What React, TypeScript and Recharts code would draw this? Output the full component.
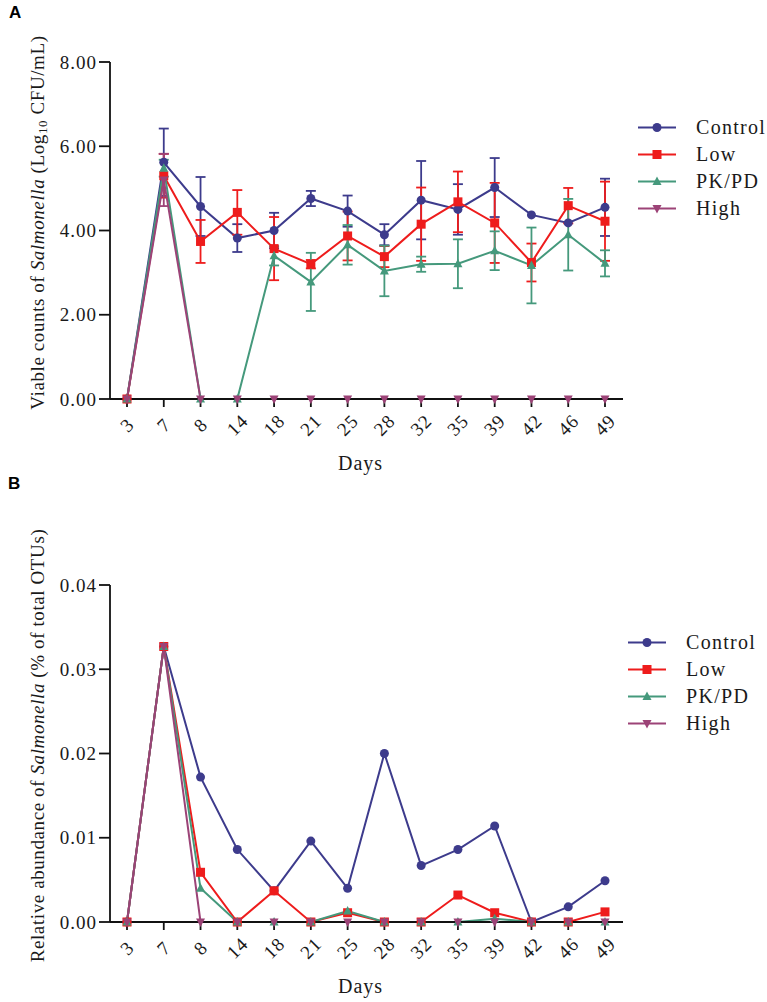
import React from 'react';
import { LineChart, Line, XAxis, YAxis, ErrorBar, Legend } from 'recharts';

const days = ['3', '7', '8', '14', '18', '21', '25', '28', '32', '35', '39', '42', '46', '49'];

// Panel A: viable counts (log10 CFU/mL) with SD
const controlA = [0, 5.62, 4.57, 3.82, 4.0, 4.76, 4.46, 3.9, 4.72, 4.5, 5.02, 4.37, 4.18, 4.55];
const controlAErr = [0, 0.8, 0.7, 0.33, 0.42, 0.18, 0.37, 0.25, 0.93, 0.6, 0.7, 0, 0, 0.68];
const lowA = [0, 5.3, 3.74, 4.43, 3.57, 3.2, 3.87, 3.38, 4.15, 4.68, 4.18, 3.24, 4.59, 4.22];
const lowAErr = [0, 0.52, 0.51, 0.53, 0.75, 0.1, 0.58, 0.25, 0.87, 0.72, 0.95, 0.45, 0.42, 0.94];
const pkpdA = [0, 5.48, 0, 0, 3.4, 2.78, 3.66, 3.04, 3.2, 3.21, 3.52, 3.17, 3.9, 3.22];
const pkpdAErr = [0, 0.2, 0, 0, 0.23, 0.69, 0.47, 0.6, 0.18, 0.58, 0.46, 0.9, 0.85, 0.31];
const highA = [0, 5.2, 0, 0, 0, 0, 0, 0, 0, 0, 0, 0, 0, 0];
const highAErr = [0, 0.62, 0, 0, 0, 0, 0, 0, 0, 0, 0, 0, 0, 0];

// Panel B: relative abundance (% of total OTUs)
const controlB = [0, 0.0327, 0.0172, 0.0086, 0.0037, 0.0096, 0.004, 0.02, 0.0067, 0.0086, 0.0114, 0, 0.0018, 0.0049];
const lowB = [0, 0.0327, 0.0059, 0, 0.0037, 0, 0.0011, 0, 0, 0.0032, 0.0011, 0, 0, 0.0012];
const pkpdB = [0, 0.0327, 0.004, 0, 0, 0, 0.0013, 0, 0, 0, 0.0004, 0, 0, 0];
const highB = [0, 0.0327, 0, 0, 0, 0, 0, 0, 0, 0, 0, 0, 0, 0];

const ticksA = [0, 2, 4, 6, 8];
const ticksB = [0, 0.01, 0.02, 0.03, 0.04];

const series = [
  { key: 'control', name: 'Control', color: '#3d3b8c', shape: 'circle' },
  { key: 'low', name: 'Low', color: '#ee1c1c', shape: 'square' },
  { key: 'pkpd', name: 'PK/PD', color: '#45997c', shape: 'up' },
  { key: 'high', name: 'High', color: '#9c4377', shape: 'down' },
];

const dataA = days.map((day, i) => ({
  day,
  control: controlA[i], controlErr: controlAErr[i],
  low: lowA[i], lowErr: lowAErr[i],
  pkpd: pkpdA[i], pkpdErr: pkpdAErr[i],
  high: highA[i], highErr: highAErr[i],
}));

const dataB = days.map((day, i) => ({
  day,
  control: controlB[i],
  low: lowB[i],
  pkpd: pkpdB[i],
  high: highB[i],
}));

const FONT = "'Liberation Serif', serif";
const TEXT = '#1a1a1a';
const AXIS = '#111';

const Marker = ({ shape, cx, cy, color, s = 1 }: any) => {
  if (cx == null || cy == null) return null;
  if (shape === 'circle') return <circle cx={cx} cy={cy} r={4.5 * s} fill={color} />;
  if (shape === 'square') return <rect x={cx - 4.5 * s} y={cy - 4.5 * s} width={9 * s} height={9 * s} fill={color} />;
  if (shape === 'up')
    return <polygon points={`${cx},${cy - 5 * s} ${cx + 4.5 * s},${cy + 3.5 * s} ${cx - 4.5 * s},${cy + 3.5 * s}`} fill={color} />;
  return <polygon points={`${cx},${cy + 5 * s} ${cx + 4.5 * s},${cy - 3.5 * s} ${cx - 4.5 * s},${cy - 3.5 * s}`} fill={color} />;
};

const DayTick = (props: any) => {
  const { x, y, payload } = props;
  return (
    <g transform={`translate(${x},${y + 16})`}>
      <text
        textAnchor="middle"
        dominantBaseline="central"
        transform="rotate(-45)"
        fontFamily={FONT}
        fontSize={19}
        letterSpacing={1}
        fill={TEXT}
      >
        {payload.value}
      </text>
    </g>
  );
};

const DaysLabel = (props: any) => {
  const { viewBox } = props;
  const cx = viewBox.x + viewBox.width / 2 - 6;
  return (
    <text x={cx} y={viewBox.y + 64} textAnchor="middle" dominantBaseline="central" fontFamily={FONT} fontSize={20} letterSpacing={1} fill={TEXT}>
      Days
    </text>
  );
};

const YTitle = (props: any) => {
  const { viewBox, panel } = props;
  const cx = 37;
  const cy = viewBox.y + viewBox.height / 2 - 8;
  return (
    <text
      x={cx}
      y={cy}
      transform={`rotate(-90, ${cx}, ${cy})`}
      textAnchor="middle"
      dominantBaseline="central"
      fontFamily={FONT}
      fontSize={19}
      letterSpacing={0.6}
      fill={TEXT}
    >
      {panel === 'A' ? (
        <>
          <tspan>Viable counts of </tspan>
          <tspan fontStyle="italic">Salmonella</tspan>
          <tspan> (Log</tspan>
          <tspan fontSize={13} dy={5}>10</tspan>
          <tspan dy={-5}> CFU/mL)</tspan>
        </>
      ) : (
        <>
          <tspan>Relative abundance of </tspan>
          <tspan fontStyle="italic">Salmonella</tspan>
          <tspan> (% of total OTUs)</tspan>
        </>
      )}
    </text>
  );
};

// legend keeps the series order (Recharts would sort by name)
const LegendBox = () => (
  <div>
    {series.map((s) => (
      <div key={s.key} style={{ display: 'flex', alignItems: 'center', height: 27 }}>
        <svg width={50} height={27}>
          <line x1={10} y1={13.5} x2={48} y2={13.5} stroke={s.color} strokeWidth={2} />
          <Marker shape={s.shape} cx={29} cy={13.5} color={s.color} />
        </svg>
        <span style={{ marginLeft: 18, fontFamily: FONT, fontSize: 20, letterSpacing: 1.3, color: TEXT }}>{s.name}</span>
      </div>
    ))}
  </div>
);

const yTick = { fontFamily: FONT, fontSize: 19, fill: TEXT, letterSpacing: 1 } as any;

const PanelA = () => (
  <LineChart width={767} height={480} data={dataA} margin={{ top: 62, right: 144, bottom: 21, left: 30 }}>
    <XAxis
      dataKey="day"
      interval={0}
      padding={{ left: 17, right: 18 }}
      axisLine={{ stroke: AXIS, strokeWidth: 1.8 }}
      tickLine={{ stroke: AXIS, strokeWidth: 1.8 }}
      tickSize={8}
      height={60}
      tick={<DayTick />}
      label={<DaysLabel />}
    />
    <YAxis
      width={80}
      domain={[0, 8]}
      ticks={ticksA}
      tickFormatter={(v: number) => v.toFixed(2)}
      axisLine={{ stroke: AXIS, strokeWidth: 1.8 }}
      tickLine={{ stroke: AXIS, strokeWidth: 1.8 }}
      tickSize={11}
      tick={yTick}
      label={<YTitle panel="A" />}
    />
    <Legend
      layout="vertical"
      align="center"
      verticalAlign="middle"
      content={<LegendBox />}
      wrapperStyle={{ left: 628, top: 114, width: 139 }}
    />
    {series.map((s) => (
      <Line
        key={s.key}
        dataKey={s.key}
        name={s.name}
        stroke={s.color}
        strokeWidth={2}
        isAnimationActive={false}
        dot={(p: any) => <Marker key={`${s.key}-${p.index}`} shape={s.shape} cx={p.cx} cy={p.cy} color={s.color} />}
        activeDot={false}
      >
        <ErrorBar dataKey={`${s.key}Err`} width={5} stroke={s.color} strokeWidth={1.8} direction="y" />
      </Line>
    ))}
  </LineChart>
);

const PanelB = () => (
  <LineChart width={767} height={522} data={dataB} margin={{ top: 105, right: 144, bottom: 20, left: 30 }}>
    <XAxis
      dataKey="day"
      interval={0}
      padding={{ left: 17, right: 18 }}
      axisLine={{ stroke: AXIS, strokeWidth: 1.8 }}
      tickLine={{ stroke: AXIS, strokeWidth: 1.8 }}
      tickSize={8}
      height={60}
      tick={<DayTick />}
      label={<DaysLabel />}
    />
    <YAxis
      width={80}
      domain={[0, 0.04]}
      ticks={ticksB}
      tickFormatter={(v: number) => v.toFixed(2)}
      axisLine={{ stroke: AXIS, strokeWidth: 1.8 }}
      tickLine={{ stroke: AXIS, strokeWidth: 1.8 }}
      tickSize={11}
      tick={yTick}
      label={<YTitle panel="B" />}
    />
    <Legend
      layout="vertical"
      align="center"
      verticalAlign="middle"
      content={<LegendBox />}
      wrapperStyle={{ left: 618, top: 149, width: 149 }}
    />
    {series.map((s) => (
      <Line
        key={s.key}
        dataKey={s.key}
        name={s.name}
        stroke={s.color}
        strokeWidth={2}
        isAnimationActive={false}
        dot={(p: any) => <Marker key={`${s.key}-${p.index}`} shape={s.shape} cx={p.cx} cy={p.cy} color={s.color} />}
        activeDot={false}
      />
    ))}
  </LineChart>
);

export default function App() {
  return (
    <div style={{ position: 'absolute', left: 0, top: 0, width: 767, height: 1002, background: '#fff' }}>
      <div style={{ position: 'absolute', left: 9, top: 3, fontFamily: "'Liberation Sans', sans-serif", fontWeight: 700, fontSize: 17 }}>A</div>
      <div style={{ position: 'absolute', left: 8, top: 474, fontFamily: "'Liberation Sans', sans-serif", fontWeight: 700, fontSize: 17 }}>B</div>
      <div style={{ position: 'absolute', left: 0, top: 0 }}>
        <PanelA />
      </div>
      <div style={{ position: 'absolute', left: 0, top: 480 }}>
        <PanelB />
      </div>
    </div>
  );
}
